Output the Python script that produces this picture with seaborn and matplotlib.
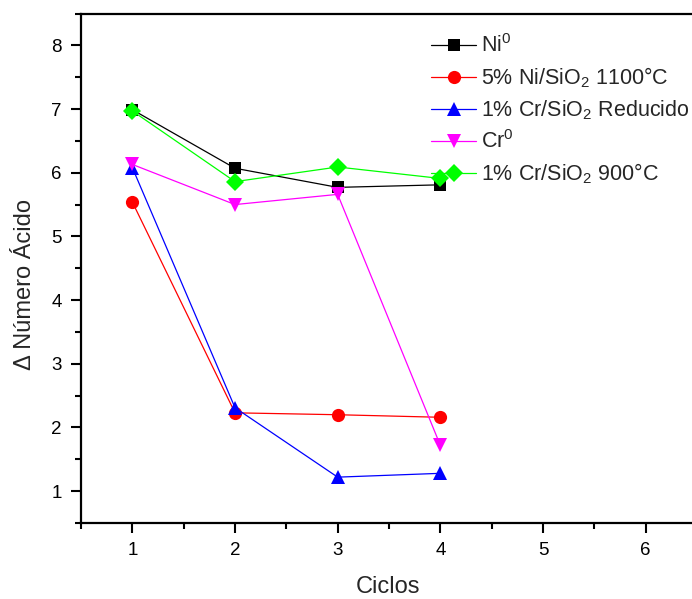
import matplotlib
matplotlib.use("Agg")
import matplotlib.pyplot as plt
import seaborn as sns
import pandas as pd
from matplotlib.ticker import MultipleLocator

sns.set_theme(style="white")
plt.rcParams["font.family"] = ["Liberation Sans", "DejaVu Sans"]
plt.rcParams["mathtext.fontset"] = "custom"
plt.rcParams["mathtext.rm"] = "Liberation Sans"
plt.rcParams["mathtext.it"] = "Liberation Sans:italic"
plt.rcParams["mathtext.bf"] = "Liberation Sans:bold"

ciclos = [1, 2, 3, 4]
ni0 = [6.99, 6.07, 5.77, 5.81]
ni_sio2_1100 = [5.54, 2.23, 2.20, 2.16]
cr_sio2_red = [6.08, 2.31, 1.22, 1.28]
cr0 = [6.13, 5.50, 5.66, 1.72]
cr_sio2_900 = [6.97, 5.86, 6.09, 5.91]

labels = [
    "Ni$^0$",
    "5% Ni/SiO$_2$ 1100°C",
    "1% Cr/SiO$_2$ Reducido",
    "Cr$^0$",
    "1% Cr/SiO$_2$ 900°C",
]
series = [ni0, ni_sio2_1100, cr_sio2_red, cr0, cr_sio2_900]
colors = ["#000000", "#ff0000", "#0000ff", "#ff00ff", "#00ff00"]
markers = ["s", "o", "^", "v", "D"]
msizes = [8.5, 9.5, 10, 10, 9]

fig = plt.figure(figsize=(6.92, 5.99), dpi=100)
ax_w = 616
ax_h = 509.5
ax = fig.add_axes([81 / 692, 76 / 599, ax_w / 692, ax_h / 599])

for lab, vals, col, mk, ms in zip(labels, series, colors, markers, msizes):
    df = pd.DataFrame({"Ciclos": ciclos, "valor": vals})
    sns.lineplot(data=df, x="Ciclos", y="valor", ax=ax, color=col,
                 marker=mk, markersize=ms, markeredgewidth=0,
                 linewidth=0.9, label=lab)

ax.set_xlim(0.5, 6.5)
ax.set_ylim(0.5, 8.5)
ax.xaxis.set_major_locator(MultipleLocator(1))
ax.xaxis.set_minor_locator(MultipleLocator(0.5))
ax.yaxis.set_major_locator(MultipleLocator(1))
ax.yaxis.set_minor_locator(MultipleLocator(0.5))
ax.tick_params(which="both", direction="out", colors="black",
               bottom=True, left=True, top=False, right=False,
               labelsize=13.5, width=1.5)
ax.tick_params(which="major", length=7, pad=7)
ax.tick_params(which="minor", length=4)
for sp in ax.spines.values():
    sp.set_color("black")
    sp.set_linewidth(1.6)

ax.set_xlabel("Ciclos", fontsize=17)
ax.xaxis.set_label_coords((388 - 81) / ax_w, (523 - 576) / ax_h)
ax.set_ylabel("Δ Número Ácido", fontsize=17)
ax.yaxis.set_label_coords((36 - 81) / ax_w, (523 - 285) / ax_h)

leg = ax.legend(loc="upper left",
                bbox_to_anchor=((431 - 81) / ax_w, 1 - 21 / ax_h),
                bbox_transform=ax.transAxes, frameon=False, fontsize=15.5,
                handlelength=2.1, handletextpad=0.2, labelspacing=0.38,
                borderaxespad=0, borderpad=0)
ax.grid(False)

fig.savefig("out.png", dpi=100)
